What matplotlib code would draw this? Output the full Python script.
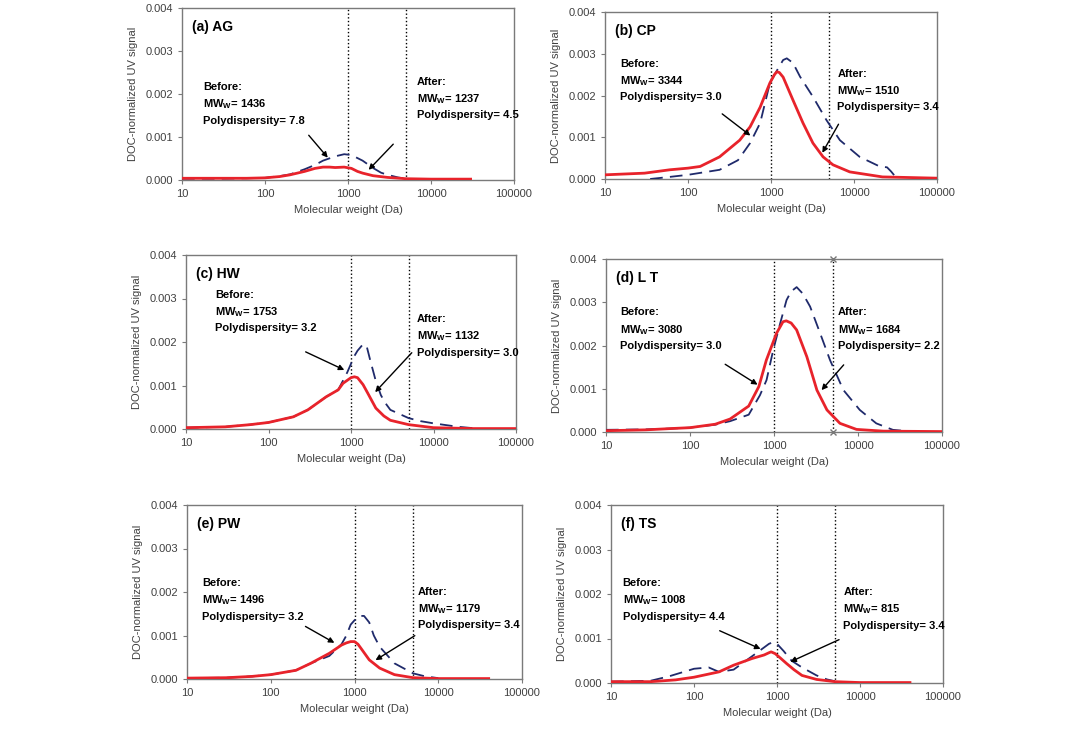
import matplotlib
matplotlib.use("Agg")
import matplotlib.pyplot as plt
from matplotlib.ticker import FixedLocator, FixedFormatter, FormatStrFormatter

plt.rcParams['font.family'] = ['Liberation Sans', 'DejaVu Sans']
plt.rcParams['mathtext.fontset'] = 'custom'
plt.rcParams['mathtext.rm'] = 'Liberation Sans'
plt.rcParams['mathtext.bf'] = 'Liberation Sans:bold'

# ---- data ----
titles = ['(a) AG', '(b) CP', '(c) HW', '(d) L T', '(e) PW', '(f) TS']
before_mw = ['1436', '3344', '1753', '3080', '1496', '1008']
before_pd = ['7.8', '3.0', '3.2', '3.0', '3.2', '4.4']
after_mw = ['1237', '1510', '1132', '1684', '1179', '815']
after_pd = ['4.5', '3.4', '3.0', '2.2', '3.4', '3.4']

a_after_x = [10, 30, 60, 100, 150, 200, 300, 400, 500, 600, 700, 900, 1100, 1300, 1500, 2000, 3000, 5000, 10000, 30000]
a_after = [0.00004, 0.00004, 0.00004, 0.00005, 0.00008, 0.00012, 0.0002, 0.00027, 0.0003, 0.0003, 0.00029, 0.0003,
           0.00027, 0.0002, 0.00016, 0.0001, 0.00006, 0.00003, 0.00002, 0.00002]
a_before_x = [10, 30, 60, 100, 150, 200, 300, 400, 500, 700, 900, 1100, 1500, 2000, 2500, 3000, 4000, 5000]
a_before = [0.00003, 0.00003, 0.00004, 0.00005, 0.00009, 0.00013, 0.00025, 0.00035, 0.00045, 0.00055, 0.0006,
            0.00058, 0.00045, 0.00028, 0.00017, 0.00012, 0.00006, 0.00003]

b_after_x = [10, 30, 60, 100, 140, 240, 420, 560, 740, 970, 1100, 1180, 1260, 1400, 1840, 2430, 3200, 4240,
             5580, 8900, 22000, 100000]
b_after = [0.0001, 0.00014, 0.00022, 0.00026, 0.0003, 0.00053, 0.00093, 0.00125, 0.00172, 0.0023, 0.0025,
           0.00257, 0.00255, 0.00244, 0.00189, 0.00134, 0.00086, 0.00053, 0.00034, 0.00017, 0.00005, 0.00002]
b_before_x = [35, 60, 100, 240, 400, 560, 740, 970, 1180, 1400, 1550, 1840, 2240, 3200, 4660, 6760, 11700,
              20400, 25000, 28000, 32000, 35000]
b_before = [0.0, 0.00005, 0.0001, 0.00022, 0.00045, 0.00086, 0.00134, 0.0023, 0.0026, 0.00285, 0.00289,
            0.00278, 0.00245, 0.00197, 0.00141, 0.00093, 0.00053, 0.0003, 0.00028, 0.00018, 0.00004, 0.0]

c_after_x = [10, 30, 60, 100, 200, 300, 500, 700, 800, 1000, 1100, 1200, 1400, 1600, 1800, 2000, 2500, 3000,
             5000, 10000, 30000, 100000]
c_after = [0.00003, 0.00005, 0.0001, 0.00015, 0.00028, 0.00044, 0.00074, 0.0009, 0.00105, 0.00118, 0.0012,
           0.00118, 0.00102, 0.00082, 0.00064, 0.00048, 0.0003, 0.0002, 0.0001, 0.00003, 0.00001, 0.00001]
c_before_x = [10, 30, 60, 100, 200, 300, 500, 700, 900, 1000, 1100, 1200, 1400, 1550, 1700, 2000, 2300, 2600,
              3000, 5000, 7000, 10000, 20000, 30000]
c_before = [0.00003, 0.00005, 0.0001, 0.00015, 0.00028, 0.00044, 0.00074, 0.0009, 0.0013, 0.0015, 0.00168,
            0.0018, 0.00195, 0.0019, 0.0016, 0.0011, 0.00078, 0.0006, 0.00044, 0.00025, 0.00018, 0.00013,
            0.00005, 0.00002]

d_after_x = [10, 30, 60, 100, 200, 300, 500, 660, 810, 1070, 1280, 1400, 1600, 1860, 2460, 3240, 4270, 6100,
             9600, 20000, 100000]
d_after = [0.00003, 0.00005, 0.00008, 0.0001, 0.00018, 0.0003, 0.0006, 0.00105, 0.00166, 0.00228, 0.00255,
           0.00257, 0.00252, 0.00236, 0.00174, 0.00097, 0.00051, 0.0002, 0.00006, 0.00002, 0.00001]
d_before_x = [10, 30, 60, 100, 200, 300, 500, 680, 815, 980, 1180, 1410, 1600, 1860, 2200, 2690, 3530, 4650,
              6700, 10500, 16500, 26000, 50000]
d_before = [0.00005, 0.00006, 0.00008, 0.0001, 0.00017, 0.00025, 0.0004, 0.00085, 0.0012, 0.0019, 0.0025,
            0.00305, 0.00325, 0.00335, 0.0032, 0.0029, 0.00229, 0.00166, 0.00097, 0.00051, 0.0002, 0.00005, 0.0]

e_after_x = [10, 30, 60, 100, 200, 300, 500, 700, 800, 900, 1000, 1100, 1200, 1500, 2000, 3000, 5000, 10000, 40000]
e_after = [0.00002, 0.00003, 0.00006, 0.0001, 0.0002, 0.00036, 0.00059, 0.00078, 0.00083, 0.00086, 0.00086,
           0.0008, 0.0007, 0.00044, 0.00025, 0.0001, 0.00003, 0.00001, 0.00001]
e_before_x = [10, 30, 60, 100, 200, 300, 500, 700, 800, 900, 1000, 1150, 1300, 1500, 1700, 2000, 3000, 5000,
              7000, 10000]
e_before = [0.00002, 0.00003, 0.00006, 0.0001, 0.0002, 0.00036, 0.00053, 0.0008, 0.001, 0.00125, 0.00135,
            0.00145, 0.00145, 0.0013, 0.001, 0.00074, 0.00036, 0.00013, 0.00006, 0.00002]

f_after_x = [10, 30, 60, 100, 200, 300, 500, 700, 800, 850, 950, 1100, 1300, 1600, 2000, 3000, 5000, 10000, 40000]
f_after = [0.00003, 0.00003, 0.00007, 0.00013, 0.00025, 0.0004, 0.00055, 0.00063, 0.00068, 0.0007, 0.00066,
           0.00056, 0.00044, 0.0003, 0.00017, 0.00008, 0.00003, 0.00001, 0.00001]
f_before_x = [10, 30, 50, 100, 150, 200, 300, 500, 700, 800, 900, 1000, 1200, 1500, 2000, 3000, 4000, 5000]
f_before = [0.00003, 0.00005, 0.00015, 0.00032, 0.00035, 0.00025, 0.0003, 0.0006, 0.0008, 0.00088, 0.00092,
            0.00088, 0.00072, 0.0005, 0.00035, 0.00017, 0.00008, 0.00004]

after_xs = [a_after_x, b_after_x, c_after_x, d_after_x, e_after_x, f_after_x]
afters = [a_after, b_after, c_after, d_after, e_after, f_after]
before_xs = [a_before_x, b_before_x, c_before_x, d_before_x, e_before_x, f_before_x]
befores = [a_before, b_before, c_before, d_before, e_before, f_before]

# arrow (tail x, tail y, head x, head y) in data units
before_arrows = [(320, 0.00109, 600, 0.00047), (243, 0.0016, 600, 0.001), (263, 0.0018, 890, 0.00133),
                 (246, 0.0016, 680, 0.00106), (243, 0.00124, 615, 0.0008), (190, 0.0012, 680, 0.00074)]
after_arrows = [(3700, 0.00088, 1680, 0.00019), (6760, 0.00137, 4000, 0.00057), (5750, 0.0018, 1860, 0.0008),
                (7100, 0.0016, 3500, 0.00092), (5600, 0.00103, 1670, 0.0004), (6000, 0.001, 1350, 0.00045)]

# layout (pixels: left, right, top, bottom) and text anchors (axes fraction)
rects = [(182, 514, 8, 180), (605, 937, 12, 179), (186, 516, 255, 429),
         (606, 942, 259, 432), (187, 522, 505, 679), (611, 943, 505, 683)]
before_pos = [(0.063, 0.57), (0.045, 0.72), (0.088, 0.80), (0.042, 0.72), (0.045, 0.58), (0.035, 0.59)]
after_pos = [(0.708, 0.60), (0.70, 0.66), (0.70, 0.66), (0.69, 0.72), (0.69, 0.53), (0.70, 0.54)]

W, H = 1081, 751
fig = plt.figure(figsize=(W / 100, H / 100), dpi=100)

red = '#e8232b'
navy = '#1f2a6b'
spine_c = '#7a7a7a'
txt_c = '#404040'

for i in range(6):
    l, r, t, b = rects[i]
    ax = fig.add_axes([l / W, (H - b) / H, (r - l) / W, (b - t) / H])
    ax.set_xscale('log')
    ax.set_xlim(10, 100000)
    ax.set_ylim(0, 0.004)

    ax.axvline(1000, color='black', ls=':', lw=1.0, zorder=1)
    ax.axvline(5000, color='black', ls=':', lw=1.0, zorder=1)
    if i == 3:
        ax.plot([5000, 5000], [0, 0.004], ls='none', marker='x', ms=5, color='#777777', clip_on=False)

    ax.plot(before_xs[i], befores[i], color=navy, lw=1.3, ls=(0, (7, 4)), zorder=3)
    ax.plot(after_xs[i], afters[i], color=red, lw=2.0, zorder=4)

    ax.xaxis.set_major_locator(FixedLocator([10, 100, 1000, 10000, 100000]))
    ax.xaxis.set_major_formatter(FixedFormatter(['10', '100', '1000', '10000', '100000']))
    ax.xaxis.set_minor_locator(FixedLocator([]))
    ax.set_yticks([0, 0.001, 0.002, 0.003, 0.004])
    ax.yaxis.set_major_formatter(FormatStrFormatter('%.3f'))
    ax.tick_params(labelsize=8, colors=txt_c, length=3, width=0.8, direction='out', color=spine_c)
    for s in ax.spines.values():
        s.set_color(spine_c)
        s.set_linewidth(1.0)

    ax.set_xlabel('Molecular weight (Da)', fontsize=8, color=txt_c, labelpad=4)
    ax.set_ylabel('DOC-normalized UV signal', fontsize=8, color=txt_c, labelpad=5)

    ax.text(0.03, 0.93, titles[i], transform=ax.transAxes, fontsize=10, fontweight='bold',
            ha='left', va='top')

    bx, by = before_pos[i]
    ax.text(bx, by, 'Before:\nMW$_{\\mathbf{W}}$= ' + before_mw[i] + '\nPolydispersity= ' + before_pd[i],
            transform=ax.transAxes, fontsize=8, fontweight='bold', ha='left', va='top',
            linespacing=1.55, zorder=5)
    axx, ayy = after_pos[i]
    ax.text(axx, ayy, 'After:\nMW$_{\\mathbf{W}}$= ' + after_mw[i] + '\nPolydispersity= ' + after_pd[i],
            transform=ax.transAxes, fontsize=8, fontweight='bold', ha='left', va='top',
            linespacing=1.55, zorder=5)

    for (x0, y0, x1, y1) in (before_arrows[i], after_arrows[i]):
        ax.annotate('', xy=(x1, y1), xytext=(x0, y0),
                    arrowprops=dict(arrowstyle='-|>', color='black', lw=1.0, mutation_scale=8),
                    zorder=6)

fig.savefig('out.png', dpi=100)
